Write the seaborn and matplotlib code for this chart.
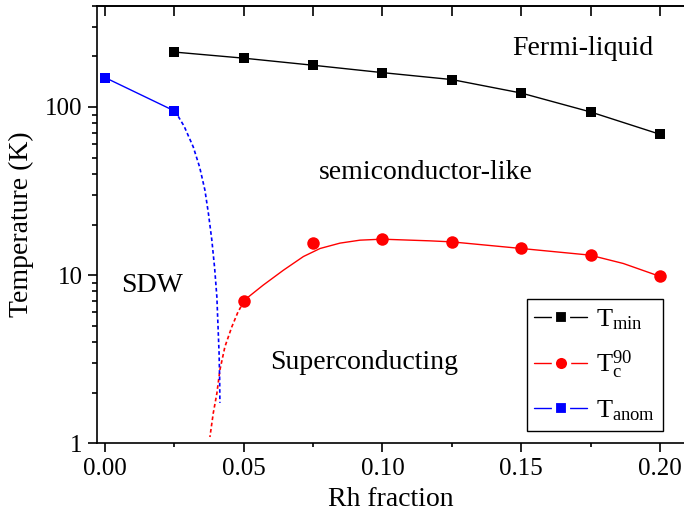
import numpy as np
import seaborn as sns
import matplotlib.pyplot as plt
from matplotlib.lines import Line2D
from matplotlib.ticker import MultipleLocator, FixedLocator, NullFormatter, LogLocator

# -------------------------------------------------------------------
# Data
# -------------------------------------------------------------------
rh_min = [0.025, 0.05, 0.075, 0.10, 0.125, 0.15, 0.175, 0.20]
t_min = [212, 195, 177, 160, 145.5, 121, 93.4, 68.8]

rh_tc = [0.05, 0.075, 0.10, 0.125, 0.15, 0.175, 0.20]
t_tc = [7.0, 15.6, 16.4, 15.8, 14.4, 13.15, 9.9]

rh_anom = [0.0, 0.025]
t_anom = [149.5, 94.7]

# smooth guide through the Tc points
rh_tc_fit = [0.0498, 0.0570, 0.0643, 0.0715, 0.0775, 0.0847, 0.0919, 0.0999,
             0.1171, 0.1249, 0.1499, 0.1748, 0.1868, 0.1998]
t_tc_fit = [7.01, 8.72, 10.7, 12.9, 14.4, 15.5, 16.14, 16.36,
            15.99, 15.77, 14.41, 13.15, 11.73, 9.86]

# dashed extrapolations
rh_tc_ext = [0.0501, 0.0479, 0.0457, 0.0432, 0.0414, 0.0403, 0.0390, 0.0378]
t_tc_ext = [7.0, 6.03, 4.93, 3.75, 2.73, 1.98, 1.51, 1.09]

rh_anom_ext = [0.0252, 0.0285, 0.0318, 0.0341, 0.0360, 0.0373, 0.0385,
               0.0395, 0.0403, 0.0407, 0.0411, 0.0413, 0.0414]
t_anom_ext = [94.7, 76.8, 57.8, 43.8, 32.0, 23.0, 16.1,
              11.0, 7.43, 5.05, 3.44, 2.44, 1.74]

# -------------------------------------------------------------------
# Style
# -------------------------------------------------------------------
sns.set_theme(style="ticks")
plt.rcParams["font.family"] = ["Liberation Serif", "DejaVu Serif"]
plt.rcParams["mathtext.fontset"] = "custom"
plt.rcParams["mathtext.rm"] = "Liberation Serif"
plt.rcParams["mathtext.it"] = "Liberation Serif:italic"
plt.rcParams["axes.linewidth"] = 1.2
for key in ["text.color", "axes.labelcolor", "xtick.color", "ytick.color",
            "axes.edgecolor"]:
    plt.rcParams[key] = "black"

fig = plt.figure(figsize=(6.84, 5.27), dpi=100)
ax = fig.add_axes([0.14225, 0.15882, 0.85775, 0.83036])

line_kw = dict(estimator=None, sort=False, legend=False, ax=ax)
dash = (0, (2.2, 1.6))

sns.lineplot(x=rh_tc_fit, y=t_tc_fit, color="red", lw=1.0, **line_kw)
sns.lineplot(x=rh_tc_ext, y=t_tc_ext, color="red", lw=1.2,
             linestyle=dash, **line_kw)
sns.lineplot(x=rh_anom_ext, y=t_anom_ext, color="blue", lw=1.2,
             linestyle=dash, **line_kw)

sns.lineplot(x=rh_min, y=t_min, color="black", lw=1.0, marker="s",
             markersize=7.5, markeredgewidth=0, **line_kw)
sns.lineplot(x=rh_tc, y=t_tc, color="red", lw=0, marker="o",
             markersize=9, markeredgewidth=0, **line_kw)
sns.lineplot(x=rh_anom, y=t_anom, color="blue", lw=1.0, marker="s",
             markersize=7.2, markeredgewidth=0, **line_kw)

ax.set_yscale("log")
ax.set_xlim(-0.0028, 0.2087)
ax.set_ylim(1, 400)

# x ticks: outward at the bottom, inward on the top
ax.xaxis.set_minor_locator(MultipleLocator(0.025))
ax.set_xticks([0.0, 0.05, 0.10, 0.15, 0.20])
ax.set_xticklabels(["0.00", "0.05", "0.10", "0.15", "0.20"])
ax.tick_params(axis="x", which="major", direction="out", length=6.5,
               width=1.2, labelsize=18, pad=4, top=False)
ax.tick_params(axis="x", which="minor", direction="out", length=3,
               width=1.2, top=False)

top = ax.secondary_xaxis("top")
top.xaxis.set_major_locator(MultipleLocator(0.025))
top.tick_params(direction="in", length=7, width=1.2, labeltop=False)

# y ticks: outward on the left
ax.yaxis.set_major_locator(FixedLocator([1, 10, 100]))
ax.set_yticklabels(["1", "10", "100"])
ax.yaxis.set_minor_locator(LogLocator(base=10, subs=np.arange(2, 10)))
ax.yaxis.set_minor_formatter(NullFormatter())
ax.tick_params(axis="y", which="major", direction="out", length=6.5,
               width=1.2, labelsize=18, pad=4, right=False)
ax.tick_params(axis="y", which="minor", direction="out", length=3.5,
               width=1.2, right=False)

ax.spines["right"].set_visible(False)

ax.set_xlabel("Rh fraction", fontsize=20, labelpad=5)
ax.set_ylabel("Temperature (K)", fontsize=20, labelpad=8)

# region labels
ax.text(0.1723, 223, "Fermi-liquid", fontsize=20, ha="center", va="center")
ax.text(0.1157, 40.9, "semiconductor-like", fontsize=20, ha="center", va="center")
ax.text(0.0169, 8.72, "SDW", fontsize=20, ha="center", va="center")
ax.text(0.0933, 3.04, "Superconducting", fontsize=20, ha="center", va="center")

# legend with a small gap around each marker
handles = [
    Line2D([], [], color="black", lw=1.0, marker="s", markersize=10,
           markerfacecolor="black", markeredgecolor="white", markeredgewidth=3),
    Line2D([], [], color="red", lw=1.0, marker="o", markersize=11,
           markerfacecolor="red", markeredgecolor="white", markeredgewidth=3),
    Line2D([], [], color="blue", lw=1.0, marker="s", markersize=10,
           markerfacecolor="blue", markeredgecolor="white", markeredgewidth=3),
]
labels = [r"T$_{\mathrm{min}}$", r"T$_{\mathrm{c}}^{\mathrm{90}}$",
          r"T$_{\mathrm{anom}}$"]
leg = ax.legend(handles, labels, loc="lower right",
                bbox_to_anchor=(0.965, 0.028), fontsize=19, frameon=True,
                fancybox=False, edgecolor="black", framealpha=1,
                handlelength=2.0, handletextpad=0.35, borderpad=0.3,
                labelspacing=0.65, borderaxespad=0)
leg.get_frame().set_linewidth(1.0)

fig.savefig("out.png", dpi=100)
